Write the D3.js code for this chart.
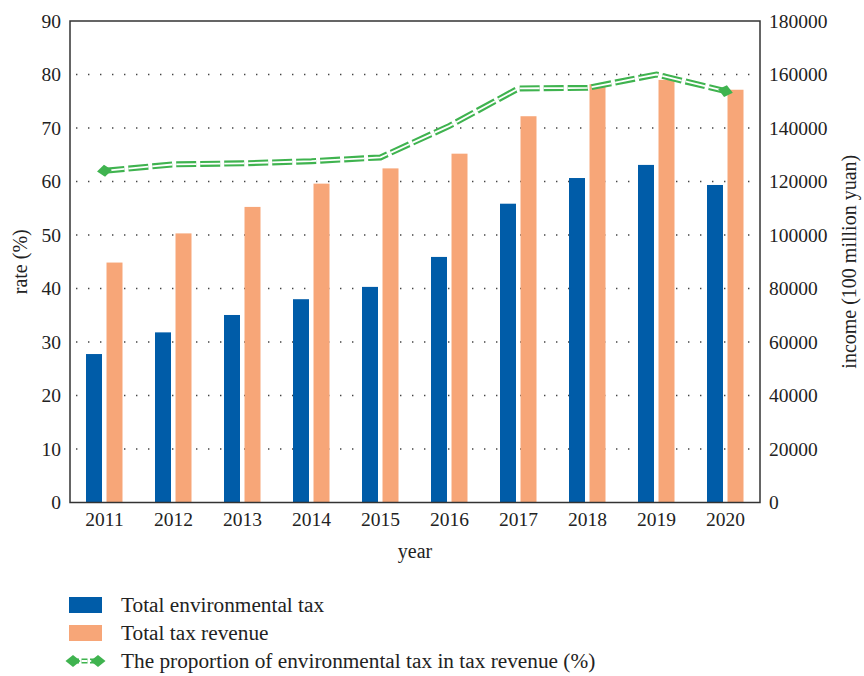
<!DOCTYPE html>
<html>
<head>
<meta charset="utf-8">
<style>
  body { margin: 0; background: #fff; }
  svg { font-family: "Liberation Serif", "DejaVu Serif", serif; }
  .grid line { stroke: #444; stroke-width: 1.4; stroke-dasharray: 1.4,10.6; }
</style>
<script src="https://cdnjs.cloudflare.com/ajax/libs/d3/7.8.5/d3.min.js"></script>
</head>
<body>
<div id="chart"></div>
<script>
// data
var years = ["2011","2012","2013","2014","2015","2016","2017","2018","2019","2020"];
var envTax = [55500, 63600, 70100, 76000, 80600, 91800, 111700, 121300, 126200, 118700];
var taxRevenue = [89700, 100600, 110500, 119200, 124900, 130400, 144400, 156400, 158000, 154300];
var proportion = [62.0, 63.2, 63.4, 63.8, 64.5, 70.4, 77.4, 77.5, 80.0, 76.9];
var rateTicks = [0,10,20,30,40,50,60,70,80,90];
var incomeTicks = [0,20000,40000,60000,80000,100000,120000,140000,160000,180000];
var legendLabels = ["Total environmental tax", "Total tax revenue", "The proportion of environmental tax in tax revenue (%)"];

var W = 864, H = 676;
var pLeft = 70, pRight = 760, pTop = 21, pBottom = 502.5;
var blue = "#005ca8", orange = "#f7a678", green = "#3fb34f";

var svg = d3.select("#chart").append("svg")
  .attr("width", W).attr("height", H);

var x = d3.scaleBand().domain(years).range([pLeft, pRight]).padding(0);
var yRate = d3.scaleLinear().domain([0, 90]).range([pBottom, pTop]);
var yIncome = d3.scaleLinear().domain([0, 180000]).range([pBottom, pTop]);
var bw = x.bandwidth();
var sub = d3.scaleBand().domain(["env","rev"]).range([bw/2 - 18.5, bw/2 + 18]).paddingInner(0.22);

// dotted grid
svg.append("g").attr("class", "grid")
  .selectAll("line").data(rateTicks.filter(function(d){ return d > 0 && d < 90; }))
  .join("line")
  .attr("x1", pLeft + 6).attr("x2", pRight)
  .attr("y1", function(d){ return yRate(d); })
  .attr("y2", function(d){ return yRate(d); });

// bars
svg.append("g").selectAll("rect").data(years).join("rect")
  .attr("x", function(d){ return x(d) + sub("env"); })
  .attr("width", sub.bandwidth())
  .attr("y", function(d, i){ return yIncome(envTax[i]); })
  .attr("height", function(d, i){ return pBottom - yIncome(envTax[i]); })
  .attr("fill", blue);

svg.append("g").selectAll("rect").data(years).join("rect")
  .attr("x", function(d){ return x(d) + sub("rev"); })
  .attr("width", sub.bandwidth())
  .attr("y", function(d, i){ return yIncome(taxRevenue[i]); })
  .attr("height", function(d, i){ return pBottom - yIncome(taxRevenue[i]); })
  .attr("fill", orange);

// frame
svg.append("rect")
  .attr("x", pLeft).attr("y", pTop)
  .attr("width", pRight - pLeft).attr("height", pBottom - pTop)
  .attr("fill", "none").attr("stroke", "#333").attr("stroke-width", 1.5);

// axes (labels only, frame draws the lines)
var axL = svg.append("g").attr("transform", "translate(" + pLeft + ",0)")
  .call(d3.axisLeft(yRate).tickValues(rateTicks).tickSize(0).tickPadding(9));
var axR = svg.append("g").attr("transform", "translate(" + pRight + ",0)")
  .call(d3.axisRight(yIncome).tickValues(incomeTicks).tickSize(0).tickPadding(9).tickFormat(d3.format("d")));
var axB = svg.append("g").attr("transform", "translate(0," + pBottom + ")")
  .call(d3.axisBottom(x).tickSize(0).tickPadding(10));
[axL, axR, axB].forEach(function(a){
  a.select(".domain").remove();
  a.selectAll("text").attr("font-size", 19.5).attr("fill", "#222")
    .attr("font-family", "Liberation Serif, serif");
});

// axis titles
svg.append("text").attr("transform", "translate(27," + (pTop + pBottom)/2 + ") rotate(-90)")
  .attr("text-anchor", "middle").attr("font-size", 20).attr("fill", "#222").text("rate (%)");
svg.append("text").attr("transform", "translate(856," + (pTop + pBottom)/2 + ") rotate(-90)")
  .attr("text-anchor", "middle").attr("font-size", 20).attr("fill", "#222").text("income (100 million yuan)");
svg.append("text").attr("x", (pLeft + pRight)/2).attr("y", 558)
  .attr("text-anchor", "middle").attr("font-size", 20).attr("fill", "#222").text("year");

// double dashed line
function doubleLine(g, pathD) {
  g.append("path").attr("d", pathD).attr("fill", "none")
    .attr("stroke", green).attr("stroke-width", 6).attr("stroke-dasharray", "20,4");
  g.append("path").attr("d", pathD).attr("fill", "none")
    .attr("stroke", "#fff").attr("stroke-width", 1.8).attr("stroke-dasharray", "20,4");
}
function diamond(g, cx, cy, angle) {
  g.append("path").attr("d", "M-7.5,0L0,-6L7.5,0L0,6Z")
    .attr("transform", "translate(" + cx + "," + cy + ") rotate(" + angle + ")")
    .attr("fill", green);
}

var line = d3.line()
  .x(function(d, i){ return x(years[i]) + bw/2; })
  .y(function(d){ return yRate(d); });
var lg = svg.append("g");
doubleLine(lg, line(proportion));
var pts = proportion.map(function(d, i){ return [x(years[i]) + bw/2, yRate(d)]; });
var n = pts.length;
var a0 = Math.atan2(pts[1][1] - pts[0][1], pts[1][0] - pts[0][0]) * 180 / Math.PI;
var a1 = Math.atan2(pts[n-1][1] - pts[n-2][1], pts[n-1][0] - pts[n-2][0]) * 180 / Math.PI;
diamond(lg, pts[0][0], pts[0][1], a0);
diamond(lg, pts[n-1][0], pts[n-1][1], a1);

// legend
var leg = svg.append("g").attr("transform", "translate(69,0)");
var rowY = [605, 633, 661];
leg.append("rect").attr("x", 0).attr("y", rowY[0] - 8).attr("width", 33).attr("height", 16).attr("fill", blue);
leg.append("rect").attr("x", 0).attr("y", rowY[1] - 8).attr("width", 33).attr("height", 16).attr("fill", orange);
var ll = leg.append("g");
doubleLine(ll, "M4," + rowY[2] + "L29," + rowY[2]);
ll.selectAll("path").attr("stroke-dasharray", "6,2.5").filter(function(d, i){ return i === 0; }).attr("stroke-width", 5);
diamond(ll, 4, rowY[2], 0);
diamond(ll, 29, rowY[2], 0);
leg.selectAll("text").data(legendLabels).join("text")
  .attr("x", 52).attr("y", function(d, i){ return rowY[i]; })
  .attr("dy", "0.35em").attr("font-size", 21.3).attr("fill", "#222")
  .text(function(d){ return d; });
</script>
</body>
</html>
